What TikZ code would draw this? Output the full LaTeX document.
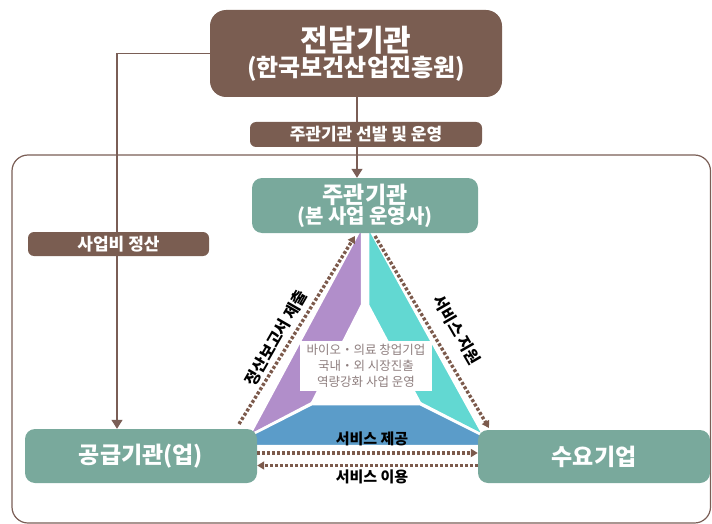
\documentclass[tikz,border=0pt]{standalone}
\usepackage{fontspec}
\setmainfont{Noto Sans CJK KR}
\usepackage{xcolor}
\usetikzlibrary{arrows.meta}
\definecolor{boxbrown}{HTML}{7A5D51}
\definecolor{boxteal}{HTML}{79A99C}
\definecolor{linebrown}{HTML}{7A5E56}
\definecolor{dotbrown}{HTML}{7C5A4C}
\definecolor{triviolet}{HTML}{B18ECA}
\definecolor{tricyan}{HTML}{62D8D2}
\definecolor{triblue}{HTML}{5B9CC9}
\definecolor{midgray}{HTML}{8E7E7E}

\begin{document}
\begin{tikzpicture}[x=1pt,y=-1pt]
\tikzset{every node/.style={font=\bfseries}}
\tikzset{agency/.style={fill=boxbrown,text=white,rounded corners=16pt,align=center,inner sep=0pt}}
\tikzset{org/.style={fill=boxteal,text=white,rounded corners=10pt,align=center,inner sep=0pt}}
\tikzset{tag/.style={fill=boxbrown,text=white,rounded corners=6pt,inner sep=0pt,font=\bfseries\fontsize{17}{19}\selectfont}}
\tikzset{link/.style={draw=linebrown,line width=1.3pt,-{Triangle[width=11pt,length=9pt]}}}
\tikzset{dots/.style={draw=dotbrown,line width=3.4pt,dash pattern=on 3pt off 2pt,-{Triangle[width=8pt,length=7pt]}}}
\tikzset{piece/.style={draw=white,line width=2.5pt,line join=round}}
\tikzset{say/.style={font=\bfseries\fontsize{15}{17}\selectfont}}

\useasboundingbox (0,0) rectangle (712,524);

% outer frame
\draw[linebrown,line width=1.2pt,rounded corners=16pt] (12,155) rectangle (710.5,523);

% triangle
\fill[triviolet,piece] (362,226) -- (362,305) -- (312,403) -- (249,436) -- cycle;
\fill[tricyan,piece] (368,226) -- (368,305) -- (420,403) -- (484,436) -- cycle;
\fill[triblue,piece] (312,404) -- (420,404) -- (484,436) -- (484,446) -- (249,446) -- (249,436) -- cycle;
\node[fill=white,text=midgray,align=center,minimum width=132pt,minimum height=50pt,inner sep=0pt,
  font=\fontsize{12.5}{16}\selectfont] (aim) at (366,366)
  {바이오・의료 창업기업\\국내・외 시장진출\\역량강화 사업 운영};

% boxes
\node[agency,minimum width=292pt,minimum height=87pt] (jeondam) at (356,53.5)
  {\fontsize{30}{32}\selectfont 전담기관\\[1pt]\fontsize{24}{26}\selectfont (한국보건산업진흥원)};
\node[org,minimum width=226pt,minimum height=55pt] (jugwan) at (365,205.5)
  {\fontsize{23}{25}\selectfont 주관기관\\\fontsize{20}{22}\selectfont (본 사업 운영사)};
\node[org,minimum width=232pt,minimum height=54pt,font=\bfseries\fontsize{23}{26}\selectfont] (gonggeup) at (141,456) {공급기관(업)};
\node[org,minimum width=232pt,minimum height=53pt,font=\bfseries\fontsize{23}{26}\selectfont] (suyo) at (594,456.5) {수요기업};

% connectors
\coordinate (bend) at (117,53.5);
\draw[link] (jeondam.south -| 357,0) -- (jugwan.north -| 357,0);
\draw[link] (jeondam.west) -- (bend) -- (bend |- gonggeup.north);

\node[tag,minimum width=232pt,minimum height=25pt] (seonbal) at (366,134.5) {주관기관 선발 및 운영};
\node[tag,minimum width=181pt,minimum height=24pt] (jeongsan) at (118.5,244) {사업비 정산};

% dotted flows
\coordinate (rep-a) at (239,424);
\coordinate (rep-b) at (355,236);
\coordinate (sup-a) at (375,236);
\coordinate (sup-b) at (489,428);
\draw[dots] (rep-a) -- (rep-b);
\draw[dots] (sup-a) -- (sup-b);
\draw[dots] ([yshift=3pt]gonggeup.east) -- ([yshift=3pt]gonggeup.east -| suyo.west);
\draw[dots] ([yshift=-9pt]suyo.west) -- ([yshift=-9pt]suyo.west -| gonggeup.east);

\node[say,rotate=60,font=\bfseries\fontsize{16}{18}\selectfont] (report) at (276,338) {정산보고서 제출};
\node[say,rotate=-60,font=\bfseries\fontsize{16}{18}\selectfont] (support) at (457,330) {서비스 지원};
\node[say] (offer) at (372,439) {서비스 제공};
\node[say] (use) at (372,477) {서비스 이용};

\end{tikzpicture}
\end{document}
